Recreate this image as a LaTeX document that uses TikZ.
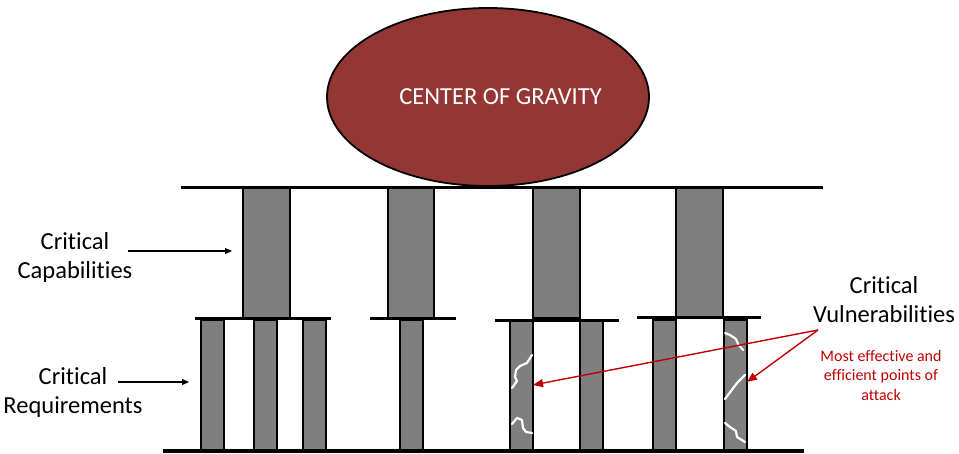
\documentclass[tikz,border=0pt]{standalone}
\usepackage{fontspec}
\setmainfont{Carlito}[Ligatures=NoCommon]
\usetikzlibrary{shapes.geometric,arrows.meta}
\definecolor{cogred}{HTML}{943634}
\definecolor{pillargray}{HTML}{7F7F7F}
\definecolor{vulred}{HTML}{C00000}
\tikzset{
  pillar/.style={draw=black, line width=2pt, fill=pillargray, inner sep=0pt},
  beam/.style={line width=3pt, black},
  crack/.style={white, line width=2.2pt, line cap=round, line join=round},
  lbl/.style={align=center, inner sep=0pt, font=\fontsize{24.5}{29}\selectfont},
  redlbl/.style={align=center, inner sep=0pt, text=vulred, font=\fontsize{16}{19.5}\selectfont},
  blackarrow/.style={-{Triangle[length=7pt,width=6pt]}, line width=1.1pt},
  redarrow/.style={-{Triangle[length=10pt,width=8pt]}, line width=1.4pt, vulred}
}
\begin{document}
\begin{tikzpicture}[x=1pt,y=-1pt]
\useasboundingbox (0,0) rectangle (959,453);
% center of gravity
\node[ellipse, draw=black, line width=1.8pt, fill=cogred, minimum width=322pt, minimum height=178pt, inner sep=0pt, text=white, font=\fontsize{24.5}{29}\selectfont] (cog) at (488,97) {\hspace*{25pt}CENTER OF GRAVITY};
% upper pillars (critical capabilities)
\node[pillar, minimum width=47pt, minimum height=130pt] (u1) at (266.5,253) {};
\node[pillar, minimum width=46pt, minimum height=130pt] (u2) at (411,253) {};
\node[pillar, minimum width=47pt, minimum height=130pt] (u3) at (556.5,253) {};
\node[pillar, minimum width=47pt, minimum height=130pt] (u4) at (699,253) {};
% lower pillars (critical requirements)
\node[pillar, minimum width=23pt, minimum height=131pt] (l1) at (212.5,385) {};
\node[pillar, minimum width=23pt, minimum height=131pt] (l2) at (265,385) {};
\node[pillar, minimum width=23pt, minimum height=131pt] (l3) at (314.5,385) {};
\node[pillar, minimum width=23pt, minimum height=131pt] (l4) at (411,385) {};
\node[pillar, minimum width=23pt, minimum height=131pt] (l5) at (521.5,385) {};
\node[pillar, minimum width=23pt, minimum height=131pt] (l6) at (591.5,385) {};
\node[pillar, minimum width=23pt, minimum height=131pt] (l7) at (664.5,385) {};
\node[pillar, minimum width=23pt, minimum height=131pt] (l8) at (735,385) {};
% beams
\draw[beam] (181,187) -- (823,187);
\draw[beam] (195,318.5) -- (331,318.5);
\draw[beam] (370,318.5) -- (456,318.5);
\draw[beam] (495,320) -- (619,320);
\draw[beam] (637,317.5) -- (761,317.5);
\draw[line width=4pt] (163,450.5) -- (804,450.5);
% cracks
\draw[crack] (532,355) -- (527,363) -- (520,366) -- (516,370) -- (515,377) -- (517,381) -- (512,388);
\draw[crack] (512,424) -- (517,418) -- (522,420) -- (523,428) -- (526,432) -- (532,433);
\draw[crack] (725,333) -- (730,335) -- (736,339) -- (738,344) -- (743,350);
\draw[crack] (745,375) -- (737,383) -- (731,391) -- (725,399);
\draw[crack] (725,423) -- (730,427) -- (736,431) -- (737,437) -- (745,442);
% labels
\node[lbl] (cap) at (75,257) {Critical\\Capabilities};
\node[lbl] (req) at (73,392) {Critical\\Requirements};
\node[lbl] (vul) at (884,300) {Critical\\Vulnerabilities};
\node[redlbl] (eff) at (881,375) {Most effective and\\efficient points of\\attack};
% arrows
\coordinate (capS) at (128,251);
\coordinate (capE) at (232,251);
\coordinate (reqS) at (118,382);
\coordinate (reqE) at (189,382);
\coordinate (vulS) at (818,330);
\coordinate (v1) at (533,385);
\coordinate (v2) at (747,382);
\draw[blackarrow] (capS) -- (capE);
\draw[blackarrow] (reqS) -- (reqE);
\draw[redarrow] (vulS) -- (v1);
\draw[redarrow] (vulS) -- (v2);
\end{tikzpicture}
\end{document}
